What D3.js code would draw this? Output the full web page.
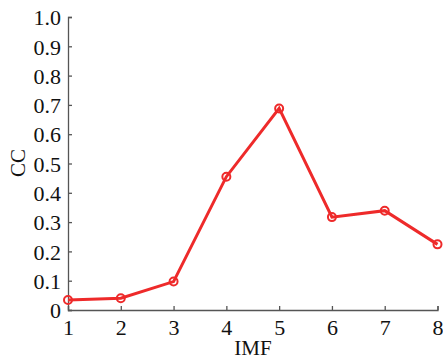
<!DOCTYPE html>
<html><head><meta charset="utf-8">
<script src="https://cdn.jsdelivr.net/npm/d3@7"></script>
<style>body{margin:0;background:#fff}svg{display:block}</style>
</head><body><svg id="c" width="443" height="361"></svg>
<script>
const imf = [1,2,3,4,5,6,7,8];
const cc = [0.034,0.040,0.097,0.455,0.688,0.317,0.339,0.224];
const yTicks = [0,0.1,0.2,0.3,0.4,0.5,0.6,0.7,0.8,0.9,1.0];
const FONT = '"Liberation Serif","Times New Roman",serif';

const svg = d3.select("#c");
const L=68,R=437.5,T=17,B=310;
const x = d3.scaleLinear().domain([1,8]).range([L,R]);
const y = d3.scaleLinear().domain([0,1]).range([B,T]);

const ya = svg.append("g").attr("transform",`translate(${L},0)`)
  .call(d3.axisLeft(y).tickValues(yTicks).tickSizeInner(-4).tickSizeOuter(-4).tickPadding(7)
    .tickFormat(d=>d===0?"0":d3.format(".1f")(d)));
const xa = svg.append("g").attr("transform",`translate(0,${B})`)
  .call(d3.axisBottom(x).tickValues(imf).tickSizeInner(-4).tickSizeOuter(-4).tickPadding(9).tickFormat(d3.format("d")));
[ya,xa].forEach(g=>{
  g.attr("font-family",FONT).attr("font-size",22);
  g.selectAll("path,line").attr("stroke","#555").attr("stroke-width",1.3);
  g.selectAll("text").style("font-family",FONT).style("font-size","22px").attr("fill","#111");
});
ya.selectAll("text").attr("dy","0.35em");
xa.selectAll("text").attr("dy","0.72em");

svg.append("path").datum(imf.map((d,i)=>[d,cc[i]]))
  .attr("fill","none").attr("stroke","#ee2a2a").attr("stroke-width",3)
  .attr("d",d3.line().x(d=>x(d[0])).y(d=>y(d[1])));
svg.append("g").selectAll("circle").data(imf.map((d,i)=>[d,cc[i]])).join("circle")
  .attr("cx",d=>x(d[0])).attr("cy",d=>y(d[1])).attr("r",4)
  .attr("fill","none").attr("stroke","#ee2a2a").attr("stroke-width",2);

svg.append("text").attr("transform","translate(25,163) rotate(-90)").attr("text-anchor","middle")
  .style("font-family",FONT).style("font-size","21px").attr("fill","#111").text("CC");
svg.append("text").attr("x",253).attr("y",355).attr("text-anchor","middle")
  .style("font-family",FONT).style("font-size","21px").attr("fill","#111").text("IMF");
</script></body></html>
